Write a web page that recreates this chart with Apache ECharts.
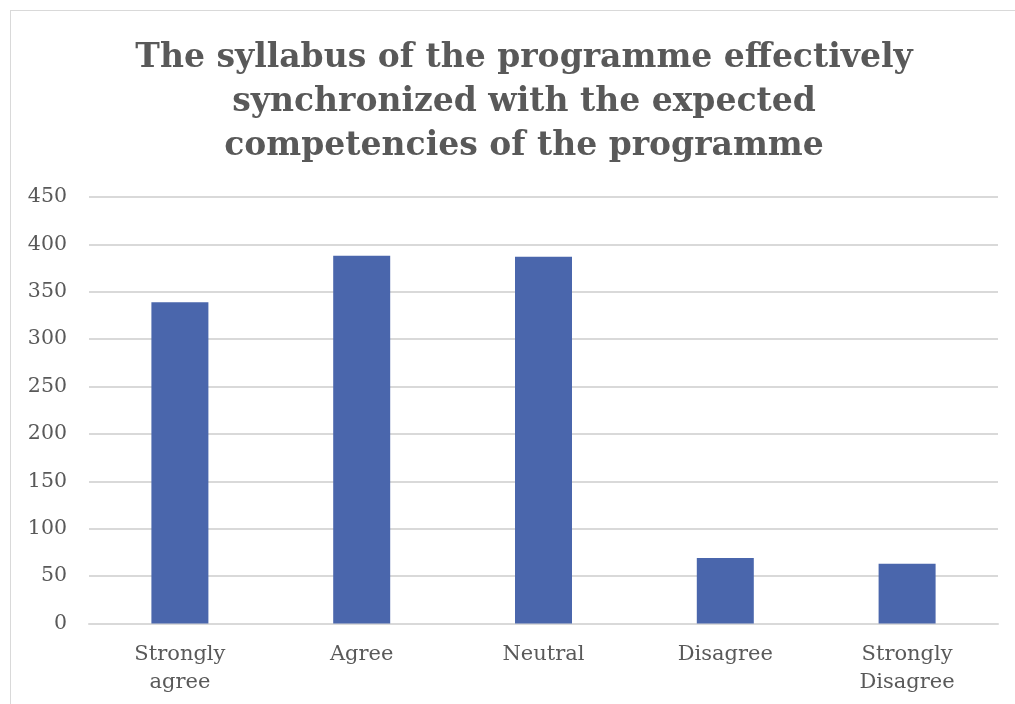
<!DOCTYPE html>
<html>
<head>
<meta charset="utf-8">
<script src="https://cdn.jsdelivr.net/npm/echarts@6/dist/echarts.min.js"></script>
<style>
html, body { margin: 0; padding: 0; background: #fff; overflow: hidden; }
#main { position: absolute; left: 10px; top: 10px; width: 1005px; height: 694px; border-left: 1px solid #d9d9d9; border-top: 1px solid #d9d9d9; box-sizing: border-box; }
</style>
</head>
<body>
<div id="main"></div>
<script>
// 数据
var categories = ['Strongly\nagree', 'Agree', 'Neutral', 'Disagree', 'Strongly\nDisagree'];
var counts = [339, 388, 387, 69, 63];
var titleText = 'The syllabus of the programme effectively\nsynchronized with the expected\ncompetencies of the programme';

var myChart = echarts.init(document.getElementById('main'));
var option = {
    animation: false,
    title: {
        text: titleText,
        left: 508,
        top: 20,
        textAlign: 'center',
        textStyle: {
            fontFamily: 'DejaVu Serif',
            fontWeight: 'bold',
            fontSize: 33,
            lineHeight: 44,
            color: '#595959'
        }
    },
    grid: {
        left: 78,
        right: 17,
        top: 186,
        bottom: 80.5,
        containLabel: false
    },
    xAxis: {
        type: 'category',
        data: categories,
        axisTick: { show: false },
        axisLine: { lineStyle: { color: '#d9d9d9', width: 2 } },
        axisLabel: {
            color: '#595959',
            fontFamily: 'DejaVu Serif',
            fontSize: 21,
            lineHeight: 28,
            margin: 17
        }
    },
    yAxis: {
        type: 'value',
        min: 0,
        max: 450,
        interval: 50,
        axisLine: { show: false },
        axisTick: { show: false },
        splitLine: { lineStyle: { color: '#d9d9d9', width: 2 } },
        axisLabel: {
            color: '#595959',
            fontFamily: 'DejaVu Serif',
            fontSize: 20.5,
            margin: 22
        }
    },
    series: [{
        type: 'bar',
        data: counts,
        barWidth: 57,
        itemStyle: { color: '#4a66ac' }
    }]
};
myChart.setOption(option);
</script>
</body>
</html>
